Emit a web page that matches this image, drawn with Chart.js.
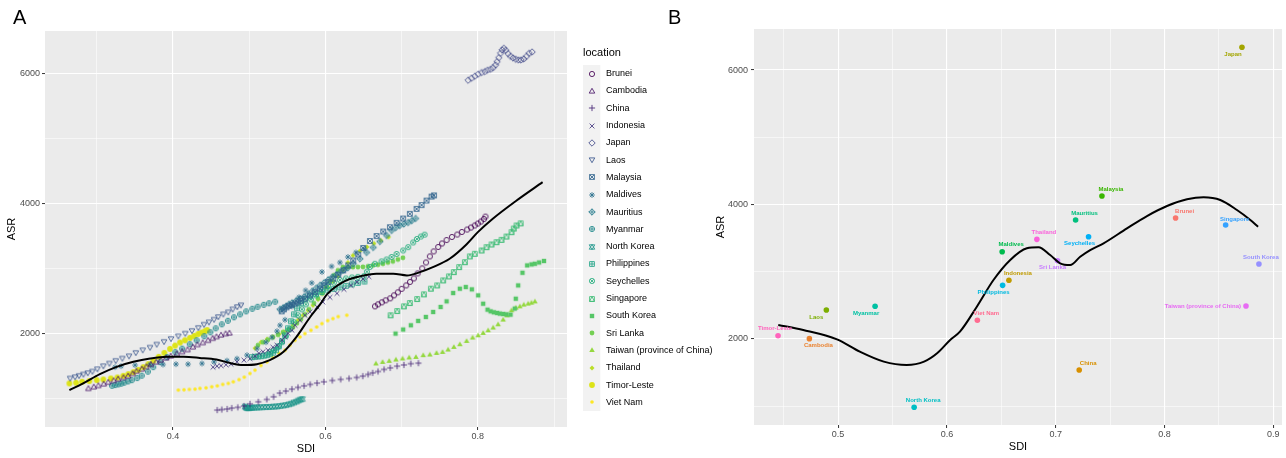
<!DOCTYPE html>
<html>
<head>
<meta charset="utf-8">
<script src="https://cdn.jsdelivr.net/npm/chart.js@4.4.0/dist/chart.umd.min.js"></script>
<style>
  html, body { margin: 0; padding: 0; background: #fff; }
  body { width: 1286px; height: 458px; position: relative; overflow: hidden; font-family: "Liberation Sans", Arial, sans-serif; }
  .tag { position: absolute; top: 7px; font-size: 20px; line-height: 1; color: #000; z-index: 2; }
  #wrapA { position: absolute; left: 0; top: 0; width: 714px; height: 458px; }
  #wrapB { position: absolute; left: 714px; top: 0; width: 572px; height: 458px; }
</style>
</head>
<body>
<div class="tag" style="left:13px">A</div>
<div class="tag" style="left:668px">B</div>
<div id="wrapA"><canvas id="chartA"></canvas></div>
<div id="wrapB"><canvas id="chartB"></canvas></div>
<script>
const locations = ['Brunei', 'Cambodia', 'China', 'Indonesia', 'Japan', 'Laos', 'Malaysia', 'Maldives',
  'Mauritius', 'Myanmar', 'North Korea', 'Philippines', 'Seychelles', 'Singapore', 'South Korea',
  'Sri Lanka', 'Taiwan (province of China)', 'Thailand', 'Timor-Leste', 'Viet Nam'];

// panel A: [SDI, ASR] per year
const brunei = [[0.665,2415],[0.669,2446],[0.674,2477],[0.679,2508],[0.685,2538],[0.690,2585],[0.695,2631],[0.700,2685],[0.706,2738],[0.711,2792],[0.716,2846],[0.721,2923],[0.727,3000],[0.732,3092],[0.737,3185],[0.742,3262],[0.748,3331],[0.753,3385],[0.759,3438],[0.766,3485],[0.773,3523],[0.779,3562],[0.786,3600],[0.791,3631],[0.796,3662],[0.800,3692],[0.804,3723],[0.808,3762],[0.810,3799]];
const cambodia = [[0.289,1149],[0.296,1174],[0.302,1195],[0.309,1220],[0.315,1246],[0.322,1272],[0.328,1297],[0.335,1318],[0.341,1343],[0.347,1379],[0.352,1415],[0.359,1451],[0.365,1487],[0.371,1523],[0.378,1559],[0.384,1590],[0.391,1621],[0.397,1651],[0.405,1687],[0.412,1718],[0.419,1749],[0.426,1790],[0.432,1826],[0.439,1857],[0.446,1892],[0.452,1923],[0.457,1949],[0.463,1974],[0.469,1995],[0.474,2005]];
const china = [[0.458,815],[0.464,823],[0.471,831],[0.477,846],[0.485,857],[0.493,877],[0.501,911],[0.512,943],[0.523,980],[0.532,1020],[0.540,1077],[0.548,1108],[0.556,1138],[0.564,1165],[0.572,1189],[0.580,1211],[0.589,1231],[0.598,1251],[0.609,1272],[0.620,1288],[0.631,1303],[0.641,1318],[0.649,1338],[0.656,1365],[0.662,1389],[0.669,1411],[0.677,1442],[0.685,1466],[0.694,1492],[0.703,1512],[0.712,1531],[0.722,1539]];
const indonesia = [[0.4525,1477],[0.4577,1492],[0.463,1500],[0.4695,1515],[0.4761,1523],[0.4839,1560],[0.4931,1585],[0.501,1608],[0.5075,1646],[0.5128,1692],[0.518,1715],[0.5246,1738],[0.5311,1785],[0.5364,1815],[0.543,1892],[0.5469,1946],[0.5508,2000],[0.5561,2046],[0.56,2123],[0.5666,2200],[0.5731,2277],[0.5797,2331],[0.5889,2408],[0.5967,2482],[0.6059,2554],[0.6151,2615],[0.6243,2677],[0.6334,2738],[0.6413,2792],[0.6492,2838],[0.657,2873]];
const japan = [[0.7873,5903],[0.7917,5934],[0.7961,5965],[0.8004,5995],[0.8049,6020],[0.8092,6036],[0.8127,6057],[0.8167,6072],[0.8201,6097],[0.8232,6138],[0.8253,6189],[0.8275,6251],[0.8298,6318],[0.8319,6369],[0.8341,6395],[0.8367,6365],[0.8397,6313],[0.8429,6272],[0.8463,6246],[0.8498,6226],[0.8534,6215],[0.8568,6215],[0.8603,6231],[0.8639,6272],[0.8673,6318],[0.8712,6338]];
const laos = [[0.265,1303],[0.2715,1323],[0.2767,1343],[0.2824,1364],[0.2881,1385],[0.2942,1410],[0.3007,1446],[0.3086,1492],[0.3165,1533],[0.3248,1574],[0.3335,1610],[0.3423,1646],[0.3511,1697],[0.3602,1738],[0.3698,1779],[0.3786,1826],[0.3882,1867],[0.3974,1913],[0.407,1954],[0.4161,1995],[0.4249,2036],[0.4332,2082],[0.4407,2133],[0.4472,2169],[0.4538,2210],[0.4594,2251],[0.466,2292],[0.4725,2323],[0.4783,2369],[0.4843,2405],[0.4892,2431]];
const malaysia = [[0.5426,2338],[0.5456,2369],[0.5489,2400],[0.5521,2423],[0.5561,2438],[0.56,2457],[0.5639,2477],[0.5679,2500],[0.5731,2534],[0.5797,2585],[0.5862,2635],[0.5928,2688],[0.5984,2738],[0.6037,2789],[0.6102,2842],[0.6168,2903],[0.6233,2969],[0.6299,3046],[0.6365,3123],[0.643,3215],[0.6496,3315],[0.6584,3423],[0.6671,3500],[0.6758,3569],[0.6846,3635],[0.6934,3703],[0.702,3769],[0.7108,3842],[0.7196,3918],[0.7262,3977],[0.7327,4046],[0.7393,4108],[0.7425,4126]];
const maldives = [[0.3239,1477],[0.3318,1492],[0.3502,1508],[0.3698,1518],[0.3869,1518],[0.4039,1523],[0.4197,1523],[0.438,1534],[0.4538,1558],[0.4708,1577],[0.4839,1608],[0.497,1662],[0.5102,1765],[0.522,1862],[0.5298,1938],[0.5364,2031],[0.5403,2123],[0.5469,2208],[0.5561,2415],[0.5652,2554],[0.574,2662],[0.5819,2777],[0.5954,2946],[0.6081,3031],[0.619,3092],[0.6295,3177],[0.64,3246],[0.6508,3298]];
const mauritius = [[0.5403,2369],[0.5443,2392],[0.5482,2415],[0.5521,2446],[0.5561,2469],[0.5613,2500],[0.5666,2531],[0.5718,2562],[0.5771,2600],[0.5823,2646],[0.5875,2692],[0.5928,2738],[0.598,2777],[0.6033,2823],[0.6085,2862],[0.6138,2900],[0.619,2938],[0.6243,2977],[0.6295,3011],[0.6365,3072],[0.6452,3149],[0.654,3246],[0.6627,3323],[0.6715,3415],[0.6803,3508],[0.6868,3585],[0.6925,3631],[0.6977,3662],[0.703,3685],[0.7086,3708],[0.7134,3738],[0.7183,3770]];
const myanmar = [[0.320,1190],[0.324,1200],[0.328,1211],[0.332,1223],[0.336,1238],[0.341,1257],[0.346,1277],[0.353,1308],[0.359,1346],[0.367,1408],[0.374,1477],[0.383,1554],[0.392,1631],[0.403,1708],[0.412,1762],[0.422,1831],[0.431,1892],[0.441,1954],[0.449,2015],[0.456,2077],[0.464,2138],[0.472,2192],[0.480,2246],[0.488,2292],[0.496,2338],[0.504,2377],[0.511,2408],[0.519,2438],[0.526,2462],[0.534,2486]];
const northKorea = [[0.4944,869],[0.4957,854],[0.497,846],[0.4984,846],[0.4997,846],[0.5016,849],[0.5036,851],[0.5062,854],[0.5095,854],[0.5128,857],[0.5167,858],[0.5207,862],[0.5246,862],[0.5285,865],[0.5325,869],[0.5364,872],[0.5403,877],[0.5443,885],[0.5482,892],[0.5521,903],[0.5554,915],[0.5587,931],[0.562,946],[0.5646,962],[0.5672,977],[0.5699,984]];
const philippines = [[0.5036,1631],[0.5075,1638],[0.5115,1642],[0.5154,1646],[0.5193,1654],[0.5233,1662],[0.5272,1677],[0.5311,1700],[0.5351,1738],[0.539,1800],[0.543,1877],[0.5469,1969],[0.5508,2077],[0.5548,2185],[0.5587,2292],[0.5626,2385],[0.5679,2462],[0.5731,2523],[0.5797,2569],[0.5875,2608],[0.5954,2638],[0.6033,2662],[0.6111,2685],[0.619,2708],[0.6269,2731],[0.6348,2754],[0.6426,2777],[0.6512,2798]];
const seychelles = [[0.5272,1708],[0.5325,1738],[0.5377,1785],[0.543,1862],[0.5482,1954],[0.5534,2062],[0.5587,2169],[0.5639,2277],[0.5692,2369],[0.5744,2446],[0.581,2523],[0.5875,2585],[0.5954,2670],[0.6033,2730],[0.6111,2780],[0.619,2820],[0.6269,2845],[0.6348,2860],[0.6426,2870],[0.6505,2880],[0.6544,2950],[0.6584,3023],[0.6649,3072],[0.6737,3108],[0.6803,3138],[0.6868,3177],[0.6934,3223],[0.702,3277],[0.7086,3328],[0.7151,3400],[0.72,3454],[0.7252,3492],[0.7302,3521]];
const singapore = [[0.6855,2277],[0.6942,2343],[0.703,2415],[0.7108,2466],[0.7204,2528],[0.7292,2600],[0.7384,2688],[0.7466,2738],[0.7545,2815],[0.762,2877],[0.7685,2943],[0.7755,3020],[0.783,3097],[0.7895,3185],[0.7961,3226],[0.8049,3277],[0.8114,3328],[0.818,3369],[0.8245,3405],[0.8311,3441],[0.8376,3492],[0.8442,3559],[0.8472,3615],[0.8508,3662],[0.8562,3695]];
const southKorea = [[0.692,1995],[0.702,2057],[0.7121,2123],[0.7217,2190],[0.7318,2251],[0.7414,2328],[0.7511,2405],[0.759,2492],[0.7676,2620],[0.7764,2687],[0.7842,2713],[0.7921,2677],[0.8004,2585],[0.807,2456],[0.8127,2364],[0.8167,2338],[0.821,2323],[0.8253,2313],[0.8289,2303],[0.8332,2297],[0.8376,2292],[0.8429,2287],[0.8485,2380],[0.8498,2533],[0.8529,2738],[0.8586,2933],[0.8647,3046],[0.8704,3062],[0.8748,3072],[0.8804,3092],[0.8868,3115]];
const sriLanka = [[0.5115,1815],[0.518,1862],[0.5246,1900],[0.5311,1938],[0.5377,1977],[0.5443,2015],[0.5508,2046],[0.5574,2092],[0.5626,2154],[0.5679,2215],[0.5731,2292],[0.5784,2369],[0.5849,2462],[0.5902,2538],[0.5954,2615],[0.6007,2708],[0.6059,2800],[0.6111,2892],[0.6164,2969],[0.623,3020],[0.6295,3020],[0.6361,3020],[0.6426,3020],[0.6492,3023],[0.6557,3031],[0.6623,3046],[0.6689,3057],[0.6754,3072],[0.682,3092],[0.6885,3108],[0.6951,3138],[0.7017,3164]];
const taiwan = [[0.6662,1534],[0.675,1558],[0.6837,1574],[0.6925,1595],[0.7012,1611],[0.7099,1626],[0.7187,1635],[0.7283,1662],[0.737,1672],[0.7458,1697],[0.7537,1712],[0.761,1749],[0.7685,1789],[0.7764,1831],[0.7852,1882],[0.7931,1934],[0.8004,1969],[0.807,2005],[0.8135,2046],[0.8201,2088],[0.8266,2138],[0.8332,2211],[0.8384,2277],[0.8442,2354],[0.8498,2395],[0.8551,2415],[0.8603,2442],[0.866,2457],[0.8704,2472],[0.8749,2491]];
const thailand = [[0.5075,1769],[0.5154,1862],[0.5233,1908],[0.5311,1946],[0.539,1985],[0.5456,2023],[0.5521,2062],[0.5574,2123],[0.5639,2200],[0.5705,2277],[0.5771,2354],[0.5836,2431],[0.5902,2523],[0.5967,2615],[0.6033,2708],[0.6098,2800],[0.6164,2877],[0.623,2969],[0.6295,3092],[0.6361,3200],[0.6452,3269],[0.6544,3331],[0.6636,3385],[0.6728,3431],[0.6827,3482]];
const timorLeste = [[0.264,1226],[0.2728,1236],[0.2807,1251],[0.2902,1262],[0.2999,1277],[0.3086,1287],[0.3183,1303],[0.327,1318],[0.3348,1343],[0.3414,1369],[0.348,1400],[0.3545,1436],[0.3611,1477],[0.3676,1523],[0.3742,1574],[0.3812,1636],[0.3886,1697],[0.3961,1759],[0.4026,1810],[0.4092,1857],[0.4157,1892],[0.4223,1928],[0.4279,1959],[0.4332,1990],[0.4376,2010],[0.442,2031],[0.4448,2049]];
const vietNam = [[0.407,1123],[0.4144,1128],[0.4214,1134],[0.4289,1138],[0.4354,1149],[0.4433,1158],[0.4508,1174],[0.4581,1189],[0.4652,1211],[0.4725,1226],[0.4791,1251],[0.4866,1285],[0.4935,1323],[0.501,1380],[0.5075,1431],[0.5154,1503],[0.5233,1558],[0.5308,1626],[0.539,1690],[0.5469,1738],[0.5534,1815],[0.56,1892],[0.5666,1943],[0.5731,1995],[0.581,2046],[0.5885,2097],[0.5954,2149],[0.6029,2195],[0.6098,2226],[0.6168,2257],[0.628,2278]];

const trajectories = [brunei, cambodia, china, indonesia, japan, laos, malaysia, maldives, mauritius,
  myanmar, northKorea, philippines, seychelles, singapore, southKorea, sriLanka, taiwan, thailand,
  timorLeste, vietNam];

// smoothed trend of panel A
const fitA = [[0.264,1123],[0.282,1226],[0.304,1369],[0.326,1482],[0.348,1559],[0.370,1610],[0.392,1636],[0.414,1636],[0.435,1620],[0.457,1595],[0.475,1540],[0.492,1510],[0.510,1523],[0.527,1585],[0.545,1713],[0.562,1944],[0.580,2251],[0.593,2446],[0.602,2600],[0.623,2790],[0.645,2877],[0.667,2918],[0.689,2918],[0.707,2892],[0.724,2943],[0.741,3020],[0.763,3149],[0.785,3370],[0.800,3560],[0.820,3770],[0.850,4040],[0.885,4330]];

// panel B: 2019 values
const sdi2019 = [0.8102, 0.4736, 0.7216, 0.657, 0.8712, 0.4892, 0.7425, 0.6508, 0.7183, 0.534, 0.5699, 0.6512, 0.7302, 0.8562, 0.8868, 0.7017, 0.8749, 0.6827, 0.4448, 0.628];
const asr2019 = [3799, 2005, 1539, 2873, 6338, 2431, 4126, 3298, 3770, 2486, 984, 2798, 3521, 3695, 3115, 3164, 2491, 3482, 2049, 2278];
const fitB = [[0.445,2208],[0.468,2134],[0.499,1995],[0.520,1811],[0.542,1663],[0.563,1613],[0.579,1663],[0.591,1787],[0.603,1985],[0.612,2109],[0.6275,2480],[0.6428,2877],[0.6582,3175],[0.6735,3349],[0.6842,3364],[0.6949,3249],[0.7041,3126],[0.7133,3100],[0.7225,3224],[0.7317,3323],[0.744,3423],[0.7655,3646],[0.7839,3829],[0.8023,3978],[0.8207,4077],[0.8359,4107],[0.8513,4067],[0.8666,3918],[0.8789,3770],[0.886,3670]];

// axis breaks
const xMajorA = [0.4, 0.6, 0.8], xMinorA = [0.3, 0.5, 0.7, 0.9];
const xMajorB = [0.5, 0.6, 0.7, 0.8, 0.9], xMinorB = [0.45, 0.55, 0.65, 0.75, 0.85];
const yMajor = [2000, 4000, 6000], yMinor = [1000, 3000, 5000];

// styles
const viridis = ['#440154','#481568','#482677','#453781','#3F4788','#39558C','#32648E','#2D718E','#287D8E','#238A8D',
  '#1F968B','#20A386','#29AF7F','#3CBC75','#56C667','#75D054','#95D840','#BADE28','#DDE318','#FDE725'];
const hues = ['#F8766D','#EA8331','#D89000','#C09B00','#A3A500','#7CAE00','#39B600','#00BB4E','#00BF7D','#00C1A3',
  '#00BFC4','#00BAE0','#00B0F6','#35A2FF','#9590FF','#C77CFF','#E76BF3','#FA62DB','#FF62BC','#FF6C91'];
// label offsets for panel B (px from the point)
const labelDX = [9, 9, 9, 9, -9, -10, 9, 9, 9, -9, 9, -9, -9, 9, 2, -5, -5, 7, -3, 9];
const labelDY = [-7, 7, -7, -7, 7, 7, -7, -7, -7, 7, -7, 7, 7, -6, -7, 7, 0, -7, -7, -7];

const FONT = '"Liberation Sans", Arial, sans-serif';
Chart.defaults.font.family = FONT;
Chart.defaults.animation = false;

// ggplot-style point shapes (pch 1..20) as small canvases
function makeShape(code, color) {
  const S = 12, c = S / 2;
  const cv = document.createElement('canvas');
  cv.width = S; cv.height = S;
  const g = cv.getContext('2d');
  g.strokeStyle = color; g.fillStyle = color; g.lineWidth = 0.85;
  const line = (x1, y1, x2, y2) => { g.beginPath(); g.moveTo(c + x1, c + y1); g.lineTo(c + x2, c + y2); g.stroke(); };
  const poly = (pts, fill) => {
    g.beginPath();
    pts.forEach(([x, y], i) => i ? g.lineTo(c + x, c + y) : g.moveTo(c + x, c + y));
    g.closePath();
    fill ? g.fill() : g.stroke();
  };
  const circ = (r, fill) => { g.beginPath(); g.arc(c, c, r, 0, Math.PI * 2); fill ? g.fill() : g.stroke(); };
  const r = 2.6, t = 3.2;
  const up = [[0, -t], [t * 0.866, t * 0.5], [-t * 0.866, t * 0.5]];
  const down = [[0, t], [t * 0.866, -t * 0.5], [-t * 0.866, -t * 0.5]];
  const q = 2.4, sq = [[-q, -q], [q, -q], [q, q], [-q, q]];
  const d = 3.2, dm = [[0, -d], [d, 0], [0, d], [-d, 0]];
  switch (code) {
    case 1: circ(r); break;
    case 2: poly(up.map(([x, y]) => [x, y + 0.5])); break;
    case 3: line(-3.1, 0, 3.1, 0); line(0, -3.1, 0, 3.1); break;
    case 4: line(-2.4, -2.4, 2.4, 2.4); line(-2.4, 2.4, 2.4, -2.4); break;
    case 5: poly(dm); break;
    case 6: poly(down.map(([x, y]) => [x, y - 0.5])); break;
    case 7: poly(sq); line(-q, -q, q, q); line(-q, q, q, -q); break;
    case 8: line(-2.9, 0, 2.9, 0); line(0, -2.9, 0, 2.9); line(-2.1, -2.1, 2.1, 2.1); line(-2.1, 2.1, 2.1, -2.1); break;
    case 9: poly(dm); line(-d, 0, d, 0); line(0, -d, 0, d); break;
    case 10: circ(r); line(-r, 0, r, 0); line(0, -r, 0, r); break;
    case 11: poly(up.map(([x, y]) => [x, y + 0.6])); poly(down.map(([x, y]) => [x, y - 0.6])); break;
    case 12: poly(sq); line(-q, 0, q, 0); line(0, -q, 0, q); break;
    case 13: circ(r); line(-1.84, -1.84, 1.84, 1.84); line(-1.84, 1.84, 1.84, -1.84); break;
    case 14: poly(sq); poly([[0, -q], [q, q], [-q, q]]); break;
    case 15: poly([[-2.2, -2.2], [2.2, -2.2], [2.2, 2.2], [-2.2, 2.2]], true); break;
    case 16: circ(2.4, true); break;
    case 17: poly(up.map(([x, y]) => [x, y + 0.5]), true); break;
    case 18: poly([[0, -2.5], [2.5, 0], [0, 2.5], [-2.5, 0]], true); break;
    case 19: circ(2.9, true); break;
    case 20: circ(1.8, true); break;
  }
  return cv;
}
const shapesA = locations.map((_, i) => makeShape(i + 1, viridis[i]));

const near = (v, list) => list.some(t => Math.abs(t - v) < 1e-6);

function gridOpts(majors) {
  return {
    color: '#FFFFFF',
    lineWidth: c => (c.tick && near(c.tick.value, majors)) ? 1.1 : 0.55,
    tickColor: c => (c.tick && near(c.tick.value, majors)) ? '#333333' : 'rgba(0,0,0,0)',
    tickWidth: 1,
    tickLength: 3
  };
}

function makeScales(cfg) {
  return {
    x: {
      type: 'linear', min: cfg.xMin, max: cfg.xMax,
      border: { display: false },
      grid: gridOpts(cfg.xMajor),
      afterBuildTicks: s => { s.ticks = cfg.xMajor.concat(cfg.xMinor).sort((a, b) => a - b).map(v => ({ value: v })); },
      ticks: { autoSkip: false, maxRotation: 0, color: '#4D4D4D', font: { size: 9 }, padding: 1,
        callback: v => near(v, cfg.xMajor) ? v.toFixed(1) : '' },
      title: { display: true, text: 'SDI', color: '#000', font: { size: 11 }, padding: { top: 0, bottom: cfg.xTitlePad } },
      afterFit: s => { s.height = cfg.xHeight; }
    },
    y: {
      type: 'linear', min: cfg.yMin, max: cfg.yMax,
      border: { display: false },
      grid: gridOpts(yMajor),
      afterBuildTicks: s => { s.ticks = yMajor.concat(yMinor).sort((a, b) => a - b).map(v => ({ value: v })); },
      ticks: { autoSkip: false, color: '#4D4D4D', font: { size: 9 }, padding: cfg.yTickPad,
        callback: v => near(v, yMajor) ? String(v) : '' },
      title: { display: true, text: 'ASR', color: '#000', font: { size: 11 }, padding: { top: cfg.yTitlePad, bottom: 0 } },
      afterFit: s => { s.width = cfg.yWidth; }
    }
  };
}

const panelBg = {
  id: 'panelBg',
  beforeDraw(chart) {
    const { ctx, chartArea: a } = chart;
    ctx.save();
    ctx.fillStyle = '#EBEBEB';
    ctx.fillRect(a.left, a.top, a.right - a.left, a.bottom - a.top);
    ctx.restore();
  }
};

// ggplot-like legend on the right of panel A
const legendA = {
  id: 'legendA',
  afterDraw(chart) {
    const ctx = chart.ctx;
    const x0 = 583, y0 = 65, row = 17.3;
    ctx.save();
    ctx.fillStyle = '#000';
    ctx.textBaseline = 'middle';
    ctx.font = '11px ' + FONT;
    ctx.fillText('location', x0, 53);
    ctx.fillStyle = '#F2F2F2';
    ctx.fillRect(x0, y0, row, row * locations.length);
    ctx.font = '9px ' + FONT;
    locations.forEach((name, i) => {
      const cy = y0 + row * i + row / 2;
      const img = shapesA[i];
      ctx.drawImage(img, Math.round(x0 + row / 2 - img.width / 2), Math.round(cy - img.height / 2));
      ctx.fillStyle = '#000';
      ctx.fillText(name, 606, cy);
    });
    ctx.restore();
  }
};

const labelsB = {
  id: 'labelsB',
  afterDatasetsDraw(chart) {
    const ctx = chart.ctx;
    const pts = chart.getDatasetMeta(1).data;
    ctx.save();
    ctx.font = 'bold 6px ' + FONT;
    ctx.textBaseline = 'middle';
    pts.forEach((p, i) => {
      ctx.fillStyle = hues[i];
      ctx.textAlign = i === 16 ? 'right' : 'center';
      ctx.fillText(locations[i], p.x + labelDX[i], p.y + labelDY[i]);
    });
    ctx.restore();
  }
};

const toXY = arr => arr.map(([x, y]) => ({ x, y }));

const datasetsA = [{
  label: 'trend',
  data: toXY(fitA),
  showLine: true,
  borderColor: '#000',
  borderWidth: 2,
  pointRadius: 0,
  cubicInterpolationMode: 'monotone',
  order: 0
}].concat(trajectories.map((arr, i) => ({
  label: locations[i],
  data: toXY(arr),
  pointStyle: shapesA[i],
  pointRadius: 3,
  backgroundColor: viridis[i],
  borderColor: viridis[i],
  order: 1
})));

new Chart(document.getElementById('chartA'), {
  type: 'scatter',
  data: { datasets: datasetsA },
  options: {
    responsive: true,
    maintainAspectRatio: false,
    events: [],
    layout: { padding: { top: 31, right: 147, bottom: 0, left: 0 } },
    plugins: { legend: { display: false }, tooltip: { enabled: false } },
    scales: makeScales({
      xMin: 0.232, xMax: 0.917, xMajor: xMajorA, xMinor: xMinorA, xHeight: 31, xTitlePad: 2.4,
      yMin: 554, yMax: 6662, yWidth: 45, yTickPad: 2, yTitlePad: 5.4
    })
  },
  plugins: [panelBg, legendA]
});

new Chart(document.getElementById('chartB'), {
  type: 'scatter',
  data: {
    datasets: [{
      label: 'trend',
      data: toXY(fitB),
      showLine: true,
      borderColor: '#000',
      borderWidth: 2,
      pointRadius: 0,
      cubicInterpolationMode: 'monotone',
      order: 0
    }, {
      label: 'ASR 2019',
      data: sdi2019.map((x, i) => ({ x, y: asr2019[i] })),
      pointRadius: 2.8,
      pointBorderWidth: 0,
      pointBackgroundColor: hues,
      pointBorderColor: hues,
      order: 1
    }]
  },
  options: {
    responsive: true,
    maintainAspectRatio: false,
    events: [],
    layout: { padding: { top: 29, right: 4, bottom: 0, left: 0 } },
    plugins: { legend: { display: false }, tooltip: { enabled: false } },
    scales: makeScales({
      xMin: 0.4227, xMax: 0.908, xMajor: xMajorB, xMinor: xMinorB, xHeight: 33, xTitlePad: 4.7,
      yMin: 721, yMax: 6610, yWidth: 40, yTickPad: 3, yTitlePad: 0
    })
  },
  plugins: [panelBg, labelsB]
});
</script>
</body>
</html>
